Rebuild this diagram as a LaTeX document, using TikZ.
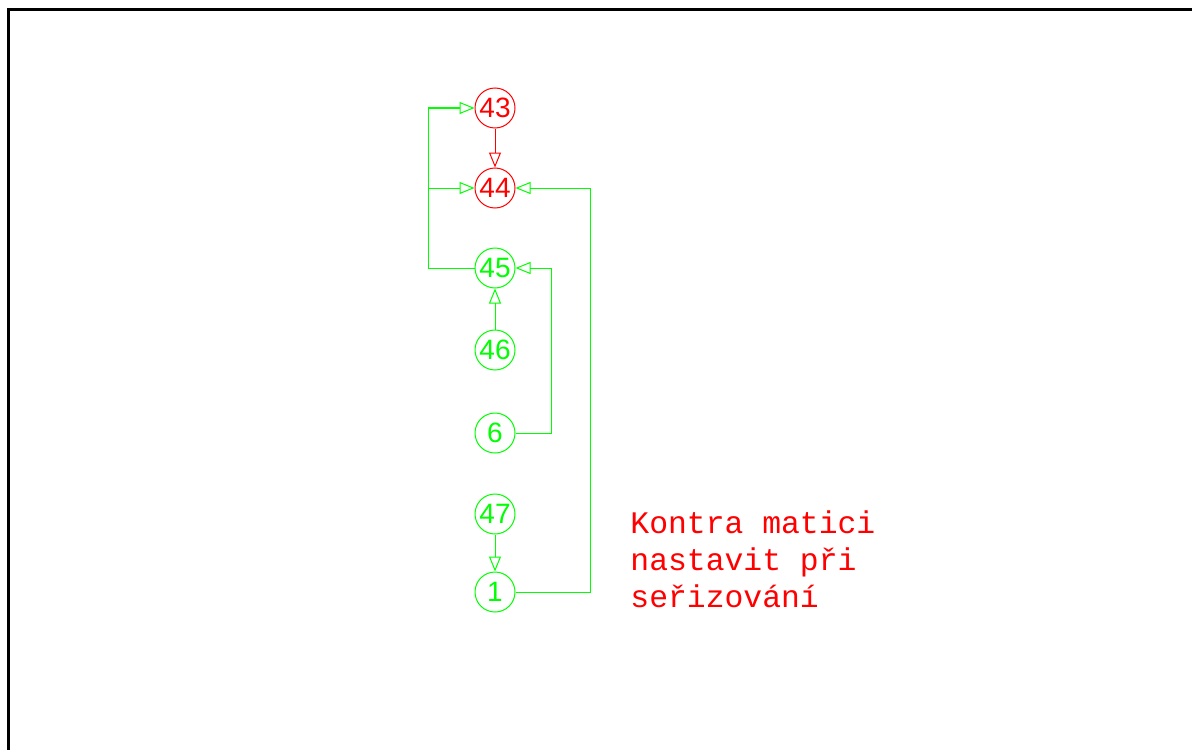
\documentclass[tikz,border=0pt]{standalone}
\usepackage{fontspec}
\setmainfont{Liberation Sans}
\newfontfamily\monof{Liberation Mono}
\usetikzlibrary{arrows.meta}
\definecolor{cadgreen}{RGB}{0,255,0}
\definecolor{cadred}{RGB}{255,0,0}
\begin{document}
\begin{tikzpicture}[x=0.5pt,y=-0.5pt,
  numnode/.style={circle,draw=#1,text=#1,line width=0.5pt,minimum size=20pt,inner sep=0pt,font=\fontsize{14}{14}\selectfont},
  conn/.style={draw=#1,line width=0.5pt,-{Triangle[open,length=7.5pt,width=6pt]}},
  plain/.style={draw=cadgreen,line width=0.5pt}]
\useasboundingbox (0,0) rectangle (1192,749);
\draw[line width=1.5pt,black] (8.5,760) -- (8.5,9.5) -- (1200,9.5);
% nodes
\node[numnode=cadred] (n43) at (495,108) {43};
\node[numnode=cadred] (n44) at (495,188) {44};
\node[numnode=cadgreen] (n45) at (495,268) {45};
\node[numnode=cadgreen] (n46) at (495,350) {46};
\node[numnode=cadgreen] (n6) at (495,433) {6};
\node[numnode=cadgreen] (n47) at (495,514) {47};
\node[numnode=cadgreen] (n1) at (495,592) {1};
\coordinate (lt) at (428,108);
\coordinate (lm) at (428,188);
\coordinate (lb) at (428,268);
\coordinate (r6) at (551,433);
\coordinate (r6t) at (551,268);
\coordinate (r1) at (590,592);
\coordinate (r1t) at (590,188);
% connectors
\draw[conn=cadred] (n43) -- (n44);
\draw[plain] (n45.west) -- (lb) -- (lt);
\draw[conn=cadgreen] (lt) -- (n43.west);
\draw[conn=cadgreen] (lm) -- (n44.west);
\draw[conn=cadgreen] (n46) -- (n45);
\draw[conn=cadgreen] (n6.east) -- (r6) -- (r6t) -- (n45.east);
\draw[conn=cadgreen] (n1.east) -- (r1) -- (r1t) -- (n44.east);
\draw[conn=cadgreen] (n47) -- (n1);
% note
\node[anchor=base west,text=cadred,align=left,inner sep=0pt,font=\monof\fontsize{15.7}{18.5}\selectfont] (note) at (630,607)
  {Kontra matici\\nastavit při\\seřizování};
\end{tikzpicture}
\end{document}
